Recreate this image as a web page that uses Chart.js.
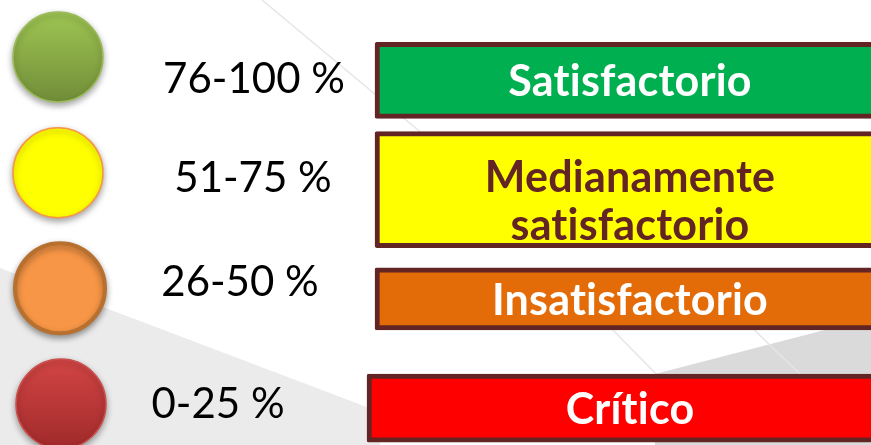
<!DOCTYPE html>
<html>
<head>
<meta charset="utf-8">
<script src="https://cdn.jsdelivr.net/npm/chart.js@4.4.0/dist/chart.umd.min.js"></script>
<style>
  html, body { margin: 0; padding: 0; background: #fff; overflow: hidden; }
  #wrap { width: 871px; height: 445px; }
</style>
</head>
<body>
<div id="wrap"><canvas id="chart" width="871" height="445"></canvas></div>
<script>
// Data: rating levels and their percentage ranges
const levels = ['Satisfactorio', 'Medianamente satisfactorio', 'Insatisfactorio', 'Crítico'];
const rangeLow = [76, 51, 26, 0];
const rangeHigh = [100, 75, 50, 25];
const rangeLabels = rangeLow.map((lo, i) => lo + '-' + rangeHigh[i] + ' %');

// Colours
const boxColors = ['#00b050', '#ffff00', '#e36c09', '#ff0000'];
const boxTextColors = ['#ffffff', '#632523', '#ffffff', '#ffffff'];
const dotTop = ['#9fc553', '#ffff00', '#f79646', '#d34545'];
const dotBottom = ['#718d38', '#ffff00', '#f79646', '#a02a2a'];
const dotBorders = ['#9bbb59', '#f79646', '#b8702f', '#c9504d'];
const dotBorderWidths = [1.5, 1.5, 4, 1.5];

// Layout (positions only, in canvas units of the hidden x scale)
const layout = {
    dotX: [58, 58, 60, 61],
    dotRadius: 45,
    labelX: [254, 253, 240, 218],
    labelDY: [22, 6, -6, 0],
    boxLeft: [375, 375, 375, 367],
    boxRight: 885, // runs off the slide edge
    boxHeight: [76, 116, 62, 68]
};

const FONT = 'Lato, "Open Sans", sans-serif';

// Slide background with the grey facets
const backdrop = {
    id: 'backdrop',
    beforeDraw(chart) {
        const { ctx, width, height } = chart;
        ctx.save();
        ctx.fillStyle = '#ffffff';
        ctx.fillRect(0, 0, width, height);

        ctx.fillStyle = '#ebebeb';
        ctx.beginPath();
        ctx.moveTo(0, 268);
        ctx.lineTo(380, 412);
        ctx.lineTo(380, height);
        ctx.lineTo(0, height);
        ctx.closePath();
        ctx.fill();

        ctx.fillStyle = '#dadada';
        ctx.beginPath();
        ctx.moveTo(655, 374);
        ctx.lineTo(width, 318);
        ctx.lineTo(width, height);
        ctx.lineTo(655, height);
        ctx.closePath();
        ctx.fill();

        ctx.strokeStyle = '#e6e6e6';
        ctx.lineWidth = 1.5;
        [[262, 0, 430, 140], [603, 320, 662, 380], [744, 320, 802, 376]].forEach(l => {
            ctx.beginPath();
            ctx.moveTo(l[0], l[1]);
            ctx.lineTo(l[2], l[3]);
            ctx.stroke();
        });
        ctx.restore();
    }
};

// Gradient fill and shadow for the dots
const dotStyle = {
    id: 'dotStyle',
    beforeDatasetDraw(chart, args) {
        if (args.index !== 0) return;
        const ctx = chart.ctx;
        args.meta.data.forEach((pt, i) => {
            if (dotTop[i] === dotBottom[i] || !isFinite(pt.y)) return;
            const g = ctx.createLinearGradient(0, pt.y - layout.dotRadius, 0, pt.y + layout.dotRadius);
            g.addColorStop(0, dotTop[i]);
            g.addColorStop(1, dotBottom[i]);
            pt.options.backgroundColor = g;
        });
        ctx.save();
        ctx.shadowColor = 'rgba(0,0,0,0.35)';
        ctx.shadowBlur = 6;
        ctx.shadowOffsetY = 3;
    },
    afterDatasetDraw(chart, args) {
        if (args.index !== 0) return;
        chart.ctx.restore();
    }
};

// Range labels and level names
const textLabels = {
    id: 'textLabels',
    afterDatasetsDraw(chart) {
        const ctx = chart.ctx;
        const xScale = chart.scales.x;
        const yScale = chart.scales.y;
        ctx.save();
        ctx.textAlign = 'center';
        ctx.textBaseline = 'middle';
        ctx.fillStyle = '#000000';
        ctx.font = '42px ' + FONT;
        rangeLabels.forEach((t, i) => {
            ctx.fillText(t, xScale.getPixelForValue(layout.labelX[i]),
                yScale.getPixelForValue(i) + layout.labelDY[i]);
        });

        ctx.textBaseline = 'alphabetic';
        ctx.font = 'bold 43px ' + FONT;
        ctx.letterSpacing = '0.2px';
        const cx = xScale.getPixelForValue((375 + layout.boxRight) / 2);
        levels.forEach((name, i) => {
            const bar = chart.getDatasetMeta(i + 1).data[0];
            if (!bar) return;
            const lines = name.split(' ');
            ctx.fillStyle = boxTextColors[i];
            if (lines.length === 1) {
                ctx.fillText(name, cx, bar.y + 16);
            } else {
                ctx.fillText(lines[0], cx, bar.y + 2);
                ctx.fillText(lines[1], cx, bar.y + 50);
            }
        });
        ctx.restore();
    }
};

const boxDatasets = levels.map((name, i) => ({
    type: 'bar',
    label: name,
    indexAxis: 'y',
    yAxisID: 'yBox',
    xAxisID: 'x',
    grouped: false,
    data: [{ x: [layout.boxLeft[i], layout.boxRight], y: i }],
    backgroundColor: boxColors[i],
    borderColor: '#632523',
    borderWidth: { top: 5, left: 5, bottom: 5, right: 0 },
    borderSkipped: false,
    borderRadius: 2,
    barThickness: layout.boxHeight[i]
}));

new Chart(document.getElementById('chart'), {
    type: 'bar',
    data: {
        datasets: [{
            type: 'scatter',
            label: 'Rango',
            xAxisID: 'x',
            yAxisID: 'y',
            data: levels.map((name, i) => ({ x: layout.dotX[i], y: i })),
            pointRadius: layout.dotRadius,
            pointHoverRadius: layout.dotRadius,
            pointBackgroundColor: dotTop,
            pointBorderColor: dotBorders,
            pointBorderWidth: dotBorderWidths
        }, ...boxDatasets]
    },
    options: {
        responsive: false,
        animation: false,
        layout: { padding: 0, autoPadding: false },
        plugins: {
            legend: { display: false },
            tooltip: { enabled: false }
        },
        scales: {
            x: { type: 'linear', min: 0, max: 871, offset: false, display: false },
            y: { type: 'linear', reverse: true, min: -0.4928, max: 3.3545, offset: false, display: false },
            yBox: { type: 'linear', reverse: true, min: -0.7347, max: 3.3367, offset: false, display: false }
        }
    },
    plugins: [backdrop, dotStyle, textLabels]
});
</script>
</body>
</html>
